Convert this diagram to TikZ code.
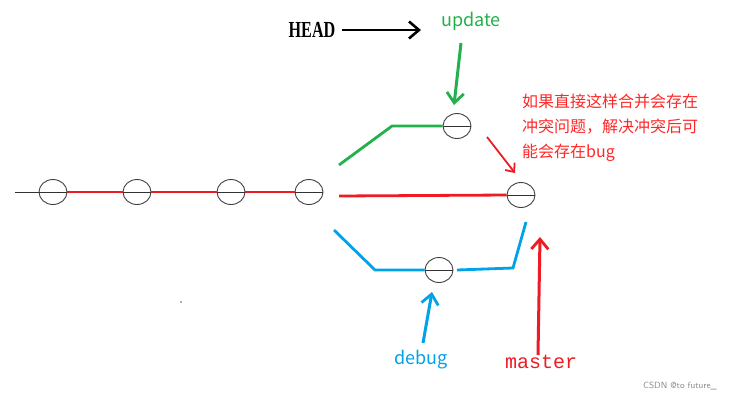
\documentclass[tikz,border=0pt]{standalone}
\usepackage{fontspec}
\usepackage{graphicx}
\setmainfont{Liberation Serif}
\newfontfamily\cjk{Noto Sans CJK SC}
\newfontfamily\monof{Liberation Mono}
\usetikzlibrary{arrows.meta,shapes.geometric}
\definecolor{pgreen}{RGB}{34,177,76}
\definecolor{pred}{RGB}{237,28,36}
\definecolor{pblue}{RGB}{0,162,232}
\definecolor{tred}{RGB}{255,40,40}
\begin{document}
\begin{tikzpicture}[x=1pt,y=-1pt,
  commit/.style={draw=black!75,line width=0.9pt,ellipse,minimum width=28pt,minimum height=25pt,inner sep=0pt},
  br/.style={line width=2.8pt},
  pointer/.style={line width=3pt,-{Straight Barb[length=10pt,width=17pt,line width=2.8pt]}}]
\useasboundingbox (0,0) rectangle (744,400);
\fill[white] (0,0) rectangle (744,400);
% commits
\foreach \n/\x/\y in {c1/53/192,c2/137/192,c3/231/192,c4/309/192,u/457/126,m/521/195,d/439/270}{
  \node[commit] (\n) at (\x,\y) {};
  \draw[black!80,line width=0.9pt] (\n.west) -- (\n.east);
}
\coordinate (start) at (15,192);
\draw[black!80,line width=0.9pt] (start) -- (c1.west);
\draw[pred,line width=2.2pt] (c1.east) -- (c2.west) (c2.east) -- (c3.west) (c3.east) -- (c4.west);
% branches
\coordinate (g0) at (339,165); \coordinate (g1) at (392,126);
\draw[pgreen,br] (g0) -- (g1) -- (u.west);
\coordinate (r0) at (339,196);
\draw[pred,br] (r0) -- (m.west);
\coordinate (b0) at (334,230); \coordinate (b1) at (375,270);
\coordinate (b2) at (457,270); \coordinate (b3) at (513,268); \coordinate (b4) at (526,222);
\draw[pblue,br] (b0) -- (b1) -- (d.west);
\draw[pblue,br] (b2) -- (b3) -- (b4);
% labels
\node[font=\bfseries\fontsize{17}{17}\selectfont,inner sep=0pt] (head) at (312,30) {\scalebox{0.95}[1.35]{HEAD}};
\node[font=\cjk\fontsize{18}{18}\selectfont,text=pgreen,inner sep=0pt] (upd) at (471,21) {update};
\node[font=\cjk\fontsize{18}{18}\selectfont,text=pblue,inner sep=0pt] (dbg) at (421,360) {debug};
\node[font=\monof\fontsize{20}{20}\selectfont,text=pred,inner sep=0pt] (mst) at (541,362) {master};
\node[font=\cjk\fontsize{16}{25}\selectfont,text=tred,inner sep=0pt,align=left,anchor=north west] (note) at (522,94) {如果直接这样合并会存在\\冲突问题，解决冲突后可\\能会存在bug};
\node[font=\sffamily\fontsize{9}{9}\selectfont,text=black!45,inner sep=0pt] (wm) at (680,386) {CSDN @to future\_};
% pointers
\coordinate (ha) at (342,30); \coordinate (hb) at (421,30);
\draw[black,line width=2.8pt,-{Straight Barb[length=10pt,width=17pt,line width=2.6pt]}] (ha) -- (hb);
\coordinate (ua) at (461,43); \coordinate (ub) at (454,105);
\draw[pgreen,pointer] (ua) -- (ub);
\coordinate (na) at (487,137); \coordinate (nb) at (515,173);
\draw[pred,line width=1.8pt,-{Straight Barb[length=7pt,width=12pt,line width=1.8pt]}] (na) -- (nb);
\coordinate (ma) at (538,355); \coordinate (mb) at (540,237);
\draw[pred,pointer] (ma) -- (mb);
\coordinate (da) at (423,343); \coordinate (db) at (432,292);
\draw[pblue,pointer] (da) -- (db);
\coordinate (dot) at (181,302);
\fill[black!60] (dot) circle (0.8pt);
\end{tikzpicture}
\end{document}
